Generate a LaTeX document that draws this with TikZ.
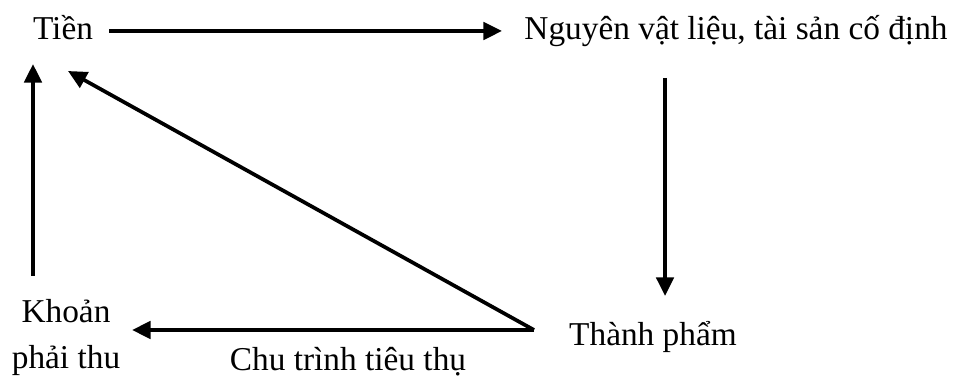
\documentclass[tikz,border=0pt]{standalone}
\usepackage{fontspec}
\setmainfont{Liberation Serif}
\usetikzlibrary{arrows.meta}
\begin{document}
\begin{tikzpicture}[x=0.75pt,y=-0.75pt,
  lbl/.style={font=\fontsize{25}{30}\selectfont,inner sep=0pt,anchor=base},
  arr/.style={line width=2.8pt,-{Triangle[length=14pt,width=13pt]}}]
\useasboundingbox (0,0) rectangle (955,384);
\node[lbl] (tien) at (63,40) {Tiền};
\node[lbl] (nvl) at (736,40) {Nguyên vật liệu, tài sản cố định};
\node[lbl] (tp) at (653,345) {Thành phẩm};
\node[lbl] (kpt) at (66,322) {Khoản};
\node[lbl] (kpt2) at (66,368) {phải thu};
\node[lbl] (ct) at (348,370) {Chu trình tiêu thụ};
\coordinate (apex) at (534,330);
\draw[arr] (tien.east |- 0,31) ++(16,0) coordinate (a0) -- (502,31) coordinate (a1);
\draw[arr] (665,78) coordinate (b0) -- (665,296) coordinate (b1);
\draw[arr] (33,276) coordinate (c0) -- (33,64) coordinate (c1);
\draw[arr] (apex) -- (68,71) coordinate (d1);
\draw[arr] (apex) -- (132,330) coordinate (e1);
\end{tikzpicture}
\end{document}
